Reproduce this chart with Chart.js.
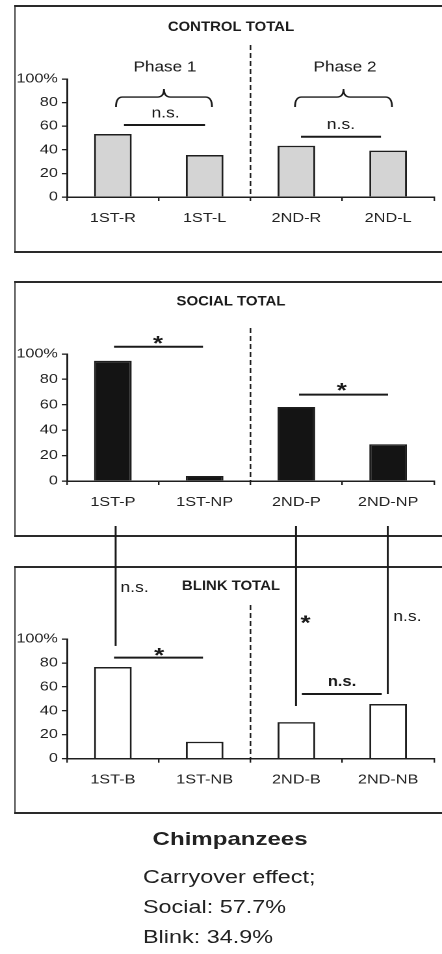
<!DOCTYPE html>
<html>
<head>
<meta charset="utf-8">
<script src="https://cdn.jsdelivr.net/npm/chart.js@4/dist/chart.umd.min.js"></script>
<style>
  html, body { margin: 0; padding: 0; background: #fff; overflow: hidden; width: 442px; height: 954px; }
  #wrap { position: absolute; left: 0; top: 0; width: 340px; height: 954px; transform: scale(1.3, 1); transform-origin: 0 0; font-family: 'Liberation Sans', Arial, Helvetica, sans-serif; color: #222; }
  .box { position: absolute; left: 10.77px; width: 340px; box-sizing: border-box; border-top: 2px solid #2a2a2a; border-bottom: 2px solid #2a2a2a; border-left: 1.5px solid #2a2a2a; }
  canvas { position: absolute; left: 0; }
  #species { position: absolute; left: 0; width: 354px; top: 829px; line-height: 20px; text-align: center; font-weight: bold; font-size: 18.5px; }
  #notes { position: absolute; left: 110px; top: 862px; line-height: 30px; font-size: 18px; white-space: nowrap; }
</style>
</head>
<body>
<div id="wrap">
  <div class="box" style="top:5px;height:248px;"></div>
  <div class="box" style="top:281px;height:256px;"></div>
  <div class="box" style="top:566px;height:248px;"></div>
  <canvas id="c1" width="340" height="246" style="top:6px;width:340px;height:246px;"></canvas>
  <canvas id="c2" width="340" height="254" style="top:282px;width:340px;height:254px;"></canvas>
  <canvas id="c3" width="340" height="296" style="top:517px;width:340px;height:296px;"></canvas>
  <div id="species">Chimpanzees</div>
  <div id="notes">Carryover effect;<br>Social: 57.7%<br>Blink: 34.9%</div>
</div>
<script>
// ---- data ----
const controlLabels = ['1ST-R', '1ST-L', '2ND-R', '2ND-L'];
const controlValues = [53.4, 35.6, 43.4, 39.3];
const socialLabels = ['1ST-P', '1ST-NP', '2ND-P', '2ND-NP'];
const socialValues = [94.7, 3.9, 58.3, 28.9];
const blinkLabels = ['1ST-B', '1ST-NB', '2ND-B', '2ND-NB'];
const blinkValues = [76.6, 14.2, 30.6, 45.7];
const yTickValues = [0, 20, 40, 60, 80, 100];
const yTickLabels = ['0', '20', '40', '60', '80', '100%'];
const panelTitles = ['CONTROL TOTAL', 'SOCIAL TOTAL', 'BLINK TOTAL'];

const FONT = "'Liberation Sans', Arial, Helvetica, sans-serif";
Chart.defaults.font.family = FONT;
Chart.defaults.color = '#222';

function drawText(ctx, t, x, y, size, bold, hs) {
  ctx.save();
  ctx.font = (bold ? 'bold ' : '') + size + 'px ' + FONT;
  ctx.textAlign = 'center';
  ctx.textBaseline = 'middle';
  ctx.translate(x, y);
  ctx.scale(hs || 1, 1);
  ctx.fillText(t, 0, 0);
  ctx.restore();
}

function annotPlugin(a) {
  return {
    id: 'annot',
    afterDraw(chart) {
      const ctx = chart.ctx, xs = chart.scales.x, ys = chart.scales.y;
      const x0 = xs.getPixelForValue(0), dx = xs.getPixelForValue(1) - x0;
      const X = i => x0 + i * dx;
      const Y = v => ys.getPixelForValue(v);
      ctx.save();
      ctx.strokeStyle = '#1a1a1a';
      ctx.fillStyle = '#1a1a1a';
      // panel title
      drawText(ctx, a.title, X(1.287), Y(a.titleV), 14, true, 0.82);
      // dashed separator
      ctx.lineWidth = 1.2;
      ctx.setLineDash([5, 3]);
      ctx.beginPath();
      ctx.moveTo(X(1.5), Y(a.dashTop));
      ctx.lineTo(X(1.5), Y(0));
      ctx.stroke();
      ctx.setLineDash([]);
      // lines
      ctx.lineWidth = 2;
      (a.lines || []).forEach(l => {
        ctx.beginPath();
        ctx.moveTo(X(l.i0), Y(l.v));
        ctx.lineTo(X(l.i1), Y(l.v));
        ctx.stroke();
      });
      // connectors
      ctx.lineWidth = 1.5;
      (a.vlines || []).forEach(l => {
        ctx.beginPath();
        ctx.moveTo(X(l.i), Y(l.v0));
        ctx.lineTo(X(l.i), Y(l.v1));
        ctx.stroke();
      });
      // braces
      ctx.lineWidth = 1.4;
      (a.braces || []).forEach(b => {
        const xa = X(b.i0), xb = X(b.i1), xc = (xa + xb) / 2;
        const ye = Y(b.vEnd), ym = Y(b.vMid), yt = Y(b.vTop), r = 5;
        ctx.beginPath();
        ctx.moveTo(xa, ye);
        ctx.quadraticCurveTo(xa, ym, xa + r, ym);
        ctx.lineTo(xc - r, ym);
        ctx.quadraticCurveTo(xc, ym, xc, yt);
        ctx.quadraticCurveTo(xc, ym, xc + r, ym);
        ctx.lineTo(xb - r, ym);
        ctx.quadraticCurveTo(xb, ym, xb, ye);
        ctx.stroke();
      });
      // texts
      (a.texts || []).forEach(t => drawText(ctx, t.t, X(t.i), Y(t.v), t.size, t.bold, t.hs));
      (a.stars || []).forEach(s => {
        ctx.font = 'bold 20px ' + FONT;
        ctx.textAlign = 'center';
        ctx.textBaseline = 'alphabetic';
        ctx.fillText('*', X(s.i), Y(s.v) + 12);
      });
      ctx.restore();
    }
  };
}

function makeChart(id, labels, values, fill, lay, annot) {
  return new Chart(document.getElementById(id), {
    type: 'bar',
    data: {
      labels: labels,
      datasets: [{
        data: values,
        backgroundColor: fill,
        borderColor: '#1e1e1e',
        borderWidth: 1.5,
        barPercentage: 0.41,
        categoryPercentage: 1.0
      }]
    },
    options: {
      responsive: false,
      animation: false,
      devicePixelRatio: 2,
      layout: { padding: { left: 0, right: 6.15, top: lay.top, bottom: lay.bottom } },
      plugins: {
        legend: { display: false },
        tooltip: { enabled: false },
        title: { display: false }
      },
      scales: {
        x: {
          offset: true,
          grid: { display: true, offset: true, drawOnChartArea: false, drawTicks: true, tickLength: 4, color: '#1e1e1e', lineWidth: 1.2 },
          border: { display: true, color: '#1e1e1e', width: 1.5 },
          ticks: { font: { size: 12.5 }, color: '#222', padding: 10, maxRotation: 0 },
          afterFit(s) { s.height = 40; }
        },
        y: {
          min: 0, max: 100,
          afterBuildTicks(s) { s.ticks = yTickValues.map(v => ({ value: v })); },
          grid: { display: true, drawOnChartArea: false, drawTicks: true, tickLength: 4, color: '#1e1e1e', lineWidth: 1.3 },
          border: { display: true, color: '#1e1e1e', width: 1.5 },
          ticks: {
            font: { size: 12.5 }, color: '#222', padding: 3,
            callback(v) { const k = yTickValues.indexOf(v); return k >= 0 ? yTickLabels[k] : ''; }
          },
          afterFit(s) { s.width = 51.54; }
        }
      }
    },
    plugins: [annotPlugin(annot)]
  });
}

makeChart('c1', controlLabels, controlValues, '#d4d4d4',
  { top: 73, bottom: 15 },
  {
    title: panelTitles[0], titleV: 144,
    dashTop: 128.8,
    braces: [
      { i0: 0.034, i1: 1.08, vEnd: 76.3, vMid: 84.7, vTop: 91.5 },
      { i0: 1.985, i1: 3.042, vEnd: 76.3, vMid: 84.7, vTop: 91.5 }
    ],
    lines: [
      { i0: 0.121, i1: 1.004, v: 61 },
      { i0: 2.05, i1: 2.922, v: 51.1 }
    ],
    texts: [
      { t: 'Phase 1', i: 0.568, v: 110, size: 15, hs: 0.88 },
      { t: 'Phase 2', i: 2.53, v: 110, size: 15, hs: 0.88 },
      { t: 'n.s.', i: 0.574, v: 71, size: 15, hs: 0.9 },
      { t: 'n.s.', i: 2.486, v: 61, size: 15, hs: 0.9 }
    ]
  });

makeChart('c2', socialLabels, socialValues, '#141414',
  { top: 72, bottom: 15 },
  {
    title: panelTitles[1], titleV: 141.2,
    dashTop: 120.5,
    lines: [
      { i0: 0.012, i1: 0.982, v: 105.7 },
      { i0: 2.029, i1: 2.999, v: 68 }
    ],
    stars: [
      { i: 0.492, v: 112.6 },
      { i: 2.494, v: 75.6 }
    ]
  });

makeChart('c3', blinkLabels, blinkValues, '#ffffff',
  { top: 122, bottom: 14.3 },
  {
    title: panelTitles[2], titleV: 144.3,
    dashTop: 128.4,
    lines: [
      { i0: 0.012, i1: 0.982, v: 84.4 },
      { i0: 2.06, i1: 2.93, v: 54.1 }
    ],
    vlines: [
      { i: 0.03, v0: 194.4, v1: 94.2 },
      { i: 1.996, v0: 194.4, v1: 44 },
      { i: 2.996, v0: 194.4, v1: 54 }
    ],
    stars: [
      { i: 0.503, v: 90.8 },
      { i: 2.1, v: 118.1 }
    ],
    texts: [
      { t: 'n.s.', i: 2.497, v: 64.3, size: 15, bold: true, hs: 0.85 },
      { t: 'n.s.', i: 0.236, v: 142.6, size: 15, hs: 0.9 },
      { t: 'n.s.', i: 3.21, v: 118.3, size: 15, hs: 0.9 }
    ]
  });
</script>
</body>
</html>
